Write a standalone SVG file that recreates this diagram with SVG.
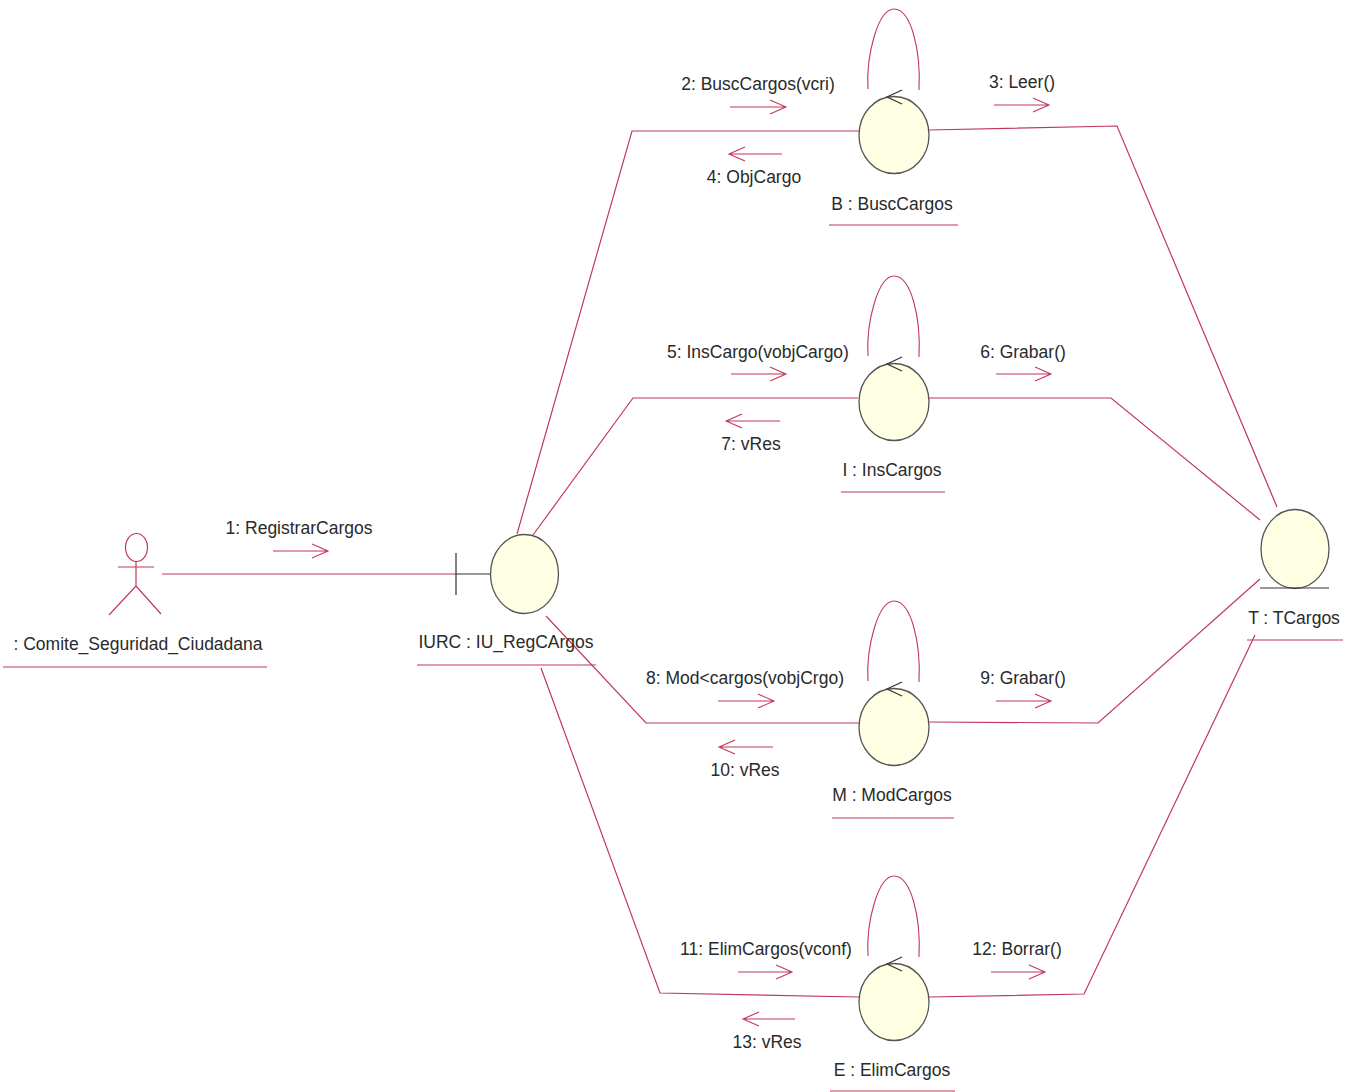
<svg xmlns="http://www.w3.org/2000/svg" width="1356" height="1092" viewBox="0 0 1356 1092">
<defs>
<style>
text{font-family:"Liberation Sans",Arial,sans-serif;font-size:17.5px;fill:#2a2a2a;text-anchor:middle}
.l{fill:none;stroke:#c0395a;stroke-width:1.2}
.u{fill:none;stroke:#c0395a;stroke-width:1.2}
.c{fill:#ffffe3;stroke:#555;stroke-width:1.3}
.k{fill:none;stroke:#333;stroke-width:1.2}
.a{fill:none;stroke:#c0395a;stroke-width:1.1}
</style>
<g id="ctl">
<path class="a" d="M-26-46C-28-80-16-126 0-126C17-126 27-85 25-45"/>
<ellipse class="c" cx="0" cy="0" rx="35" ry="38.500"/>
<path class="k" d="M8-45L-7-38L8-31"/>
</g>
</defs>
<rect width="1356" height="1092" fill="#fff"/>
<g id="connectors">
<path class="l" d="M162 574H456"/>
<path class="l" d="M517 534L632 131H859"/>
<path class="l" d="M533 535L633 398H858"/>
<path class="l" d="M546 616L646 723H859"/>
<path class="l" d="M541 668L660 993L859 997"/>
<path class="l" d="M929 130L1117 126L1277 507"/>
<path class="l" d="M929 398H1111L1260 520"/>
<path class="l" d="M929 722L1098 723L1260 579"/>
<path class="l" d="M929 997L1084 994L1255 635"/>
<path class="a" d="M273 551H328M312 544L328 551L312 558"/>
<path class="a" d="M730 107H786M770 100L786 107L770 114"/>
<path class="a" d="M782 154H729M745 147L729 154L745 161"/>
<path class="a" d="M994 105H1049M1033 98L1049 105L1033 112"/>
<path class="a" d="M731 374H786M770 367L786 374L770 381"/>
<path class="a" d="M780 421H726M742 414L726 421L742 428"/>
<path class="a" d="M996 374H1051M1035 367L1051 374L1035 381"/>
<path class="a" d="M718 701H774M758 694L774 701L758 708"/>
<path class="a" d="M773 747H719M735 740L719 747L735 754"/>
<path class="a" d="M996 701H1051M1035 694L1051 701L1035 708"/>
<path class="a" d="M738 972H792M776 965L792 972L776 979"/>
<path class="a" d="M795 1019H743M759 1012L743 1019L759 1026"/>
<path class="a" d="M991 972H1045M1029 965L1045 972L1029 979"/>
</g>
<g id="actor">
<ellipse class="l" cx="136.500" cy="547.500" rx="11" ry="14"/>
<path class="l" d="M118 567H154M136 561V586L109 615M136 586L161 614"/>
<text x="138" y="650">: Comite_Seguridad_Ciudadana</text>
<path class="u" d="M3 667H267"/>
</g>
<g id="boundary">
<path class="k" d="M456 553V595M456 574H491"/>
<ellipse class="c" cx="524.500" cy="574" rx="34" ry="39.500"/>
<text x="506" y="648">IURC : IU_RegCArgos</text>
<path class="u" d="M417 665H596"/>
</g>
<g id="B"><use href="#ctl" x="894" y="135"/><text x="892" y="210">B : BuscCargos</text><path class="u" d="M829 225H958"/></g>
<g id="I"><use href="#ctl" x="894" y="402"/><text x="892" y="476">I : InsCargos</text><path class="u" d="M841 492H945"/></g>
<g id="M"><use href="#ctl" x="894" y="727"/><text x="892" y="801">M : ModCargos</text><path class="u" d="M832 818H954"/></g>
<g id="E"><use href="#ctl" x="894" y="1002"/><text x="892" y="1076">E : ElimCargos</text><path class="u" d="M830 1091H955"/></g>
<g id="T">
<ellipse class="c" cx="1295" cy="549" rx="34" ry="39.500"/>
<path class="k" d="M1260 588H1329"/>
<text x="1294" y="624">T : TCargos</text>
<path class="u" d="M1247 640H1343"/>
</g>
<g id="labels">
<text x="299" y="534">1: RegistrarCargos</text>
<text x="758" y="90">2: BuscCargos(vcri)</text>
<text x="754" y="183">4: ObjCargo</text>
<text x="1022" y="88">3: Leer()</text>
<text x="758" y="358">5: InsCargo(vobjCargo)</text>
<text x="751" y="450">7: vRes</text>
<text x="1023" y="358">6: Grabar()</text>
<text x="745" y="684">8: Mod&lt;cargos(vobjCrgo)</text>
<text x="745" y="776">10: vRes</text>
<text x="1023" y="684">9: Grabar()</text>
<text x="766" y="955">11: ElimCargos(vconf)</text>
<text x="767" y="1048">13: vRes</text>
<text x="1017" y="955">12: Borrar()</text>
</g>
</svg>
